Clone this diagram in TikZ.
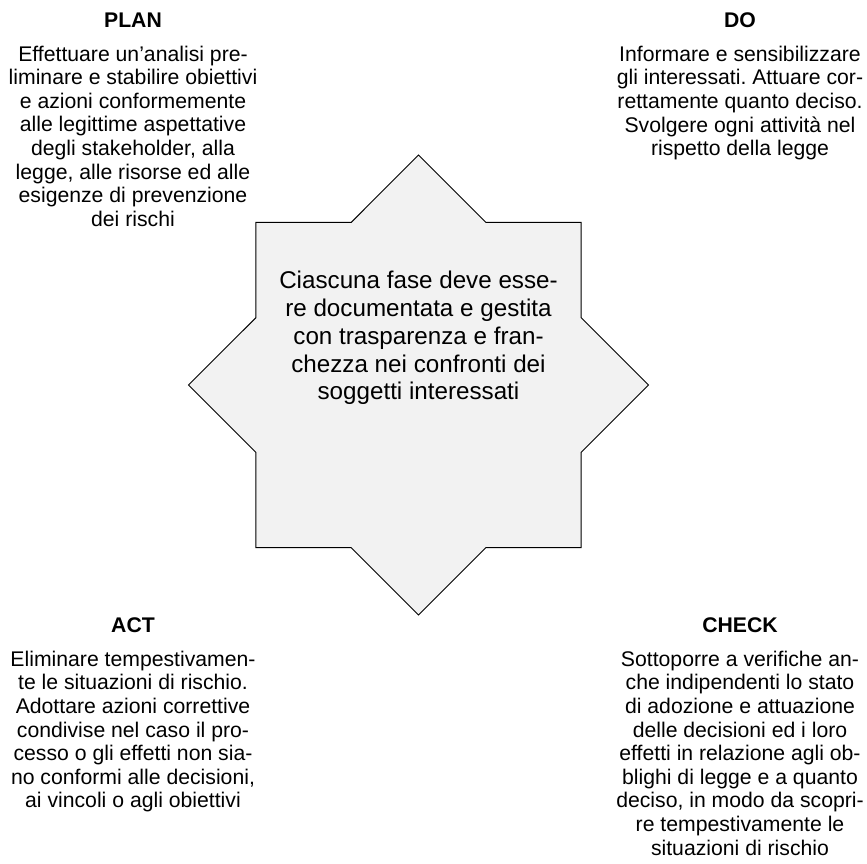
\documentclass[tikz,border=0pt]{standalone}
\usepackage{fontspec}
\setmainfont{Liberation Sans}
\usepackage{xcolor}
\usetikzlibrary{positioning,shapes.geometric}
\definecolor{starfill}{RGB}{242,242,242}
\frenchspacing

\begin{document}
\begin{tikzpicture}[
  x=1pt,y=-1pt,
  node distance=18pt,
  phase/.style={font=\fontsize{21.2}{23.6}\selectfont\bfseries,inner sep=0pt},
  desc/.style={font=\fontsize{21.2}{23.6}\selectfont,align=center,inner sep=0pt},
  core/.style={star,star points=8,star point ratio=1.307,minimum size=460pt,inner sep=0pt,draw,line width=1pt,fill=starfill},
  note/.style={font=\fontsize{24.2}{27.75}\selectfont,align=center,inner sep=0pt}
]
\useasboundingbox (0,0) rectangle (867,863);
\node[core] (star) at (418.5,385) {};
\node[note] (rule) at (418.5,338) {Ciascuna fase deve esse-\\ re documentata e gestita\\ con trasparenza e fran-\\ chezza nei confronti dei\\ soggetti interessati};

\node[phase] (plan) at (133,20) {PLAN};
\node[desc,below=of plan] (plantext) {Effettuare un’analisi pre-\\ liminare e stabilire obiettivi\\ e azioni conformemente\\ alle legittime aspettative\\ degli stakeholder, alla\\ legge, alle risorse ed alle\\ esigenze di prevenzione\\ dei rischi};
\node[phase] (do) at (740,20) {DO};
\node[desc,below=of do] (dotext) {Informare e sensibilizzare\\ gli interessati. Attuare cor-\\ rettamente quanto deciso.\\ Svolgere ogni attività nel\\ rispetto della legge};
\node[phase] (act) at (133,625) {ACT};
\node[desc,below=of act] (acttext) {Eliminare tempestivamen-\\ te le situazioni di rischio.\\ Adottare azioni correttive\\ condivise nel caso il pro-\\ cesso o gli effetti non sia-\\ no conformi alle decisioni,\\ ai vincoli o agli obiettivi};
\node[phase] (check) at (740,625) {CHECK};
\node[desc,below=of check] (checktext) {Sottoporre a verifiche an-\\ che indipendenti lo stato\\ di adozione e attuazione\\ delle decisioni ed i loro\\ effetti in relazione agli ob-\\ blighi di legge e a quanto\\ deciso, in modo da scopri-\\ re tempestivamente le\\ situazioni di rischio};
\end{tikzpicture}
\end{document}
